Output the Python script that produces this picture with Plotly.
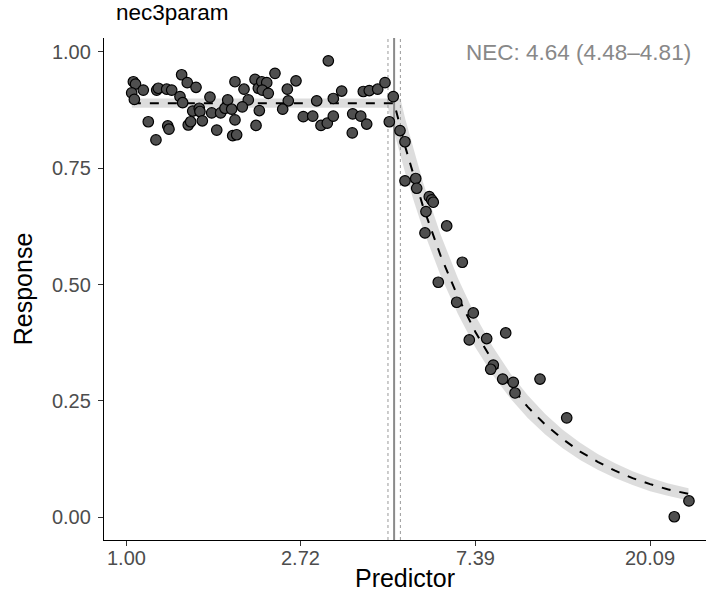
import math
import plotly.graph_objects as go

# ---- data ----
predictor = [1.043, 1.056, 1.033, 1.049, 1.104, 1.136, 1.187, 1.192, 1.203, 1.262,
             1.299, 1.270, 1.279, 1.375, 1.420, 1.362, 1.383, 1.493, 1.465, 1.521,
             1.527, 1.428, 1.448, 1.548, 1.617, 1.633, 1.681, 1.719, 1.762, 1.790,
             1.831, 1.866, 1.842, 1.884, 1.866, 1.965, 2.014, 1.946, 2.093, 2.133,
             2.175, 2.238, 2.182, 2.258, 2.346, 2.145, 2.105, 2.518, 2.532, 2.452,
             2.646, 2.759, 2.912, 2.979, 3.053, 3.165, 3.276, 3.276, 3.437, 3.184,
             3.661, 3.652, 3.833, 3.966, 3.890, 4.025, 4.224, 4.404, 4.618, 4.514,
             4.799, 4.938, 4.938, 5.251, 5.281, 5.675, 5.754, 5.806, 5.568, 6.270,
             5.537, 6.856, 5.975, 6.639, 7.301, 7.136, 7.883, 8.789, 8.187, 8.066,
             8.639, 9.180, 9.270, 10.696, 12.463, 25.09, 23.07]
response = [0.936, 0.931, 0.912, 0.898, 0.918, 0.850, 0.811, 0.918, 0.922, 0.920,
            0.918, 0.841, 0.834, 0.951, 0.934, 0.904, 0.891, 0.924, 0.873, 0.879,
            0.872, 0.843, 0.850, 0.852, 0.903, 0.869, 0.832, 0.869, 0.879, 0.897,
            0.877, 0.854, 0.820, 0.822, 0.936, 0.920, 0.897, 0.882, 0.941, 0.922,
            0.936, 0.934, 0.918, 0.911, 0.954, 0.874, 0.842, 0.920, 0.895, 0.877,
            0.938, 0.861, 0.862, 0.895, 0.842, 0.847, 0.862, 0.900, 0.916, 0.981,
            0.867, 0.826, 0.862, 0.845, 0.915, 0.917, 0.920, 0.934, 0.904, 0.850,
            0.831, 0.807, 0.723, 0.728, 0.707, 0.689, 0.682, 0.677, 0.657, 0.626,
            0.611, 0.548, 0.505, 0.462, 0.439, 0.381, 0.384, 0.396, 0.327, 0.318,
            0.297, 0.290, 0.267, 0.297, 0.2135, 0.035, 0.001]

fit_x = [1.034, 4.48, 4.64, 4.81, 4.95, 5.21, 5.47, 6.05, 6.69, 7.39, 8.17,
         9.03, 9.97, 11.02, 12.18, 13.46, 14.88, 16.44, 18.17, 20.09, 22.20, 25.03]
fit_est = [0.890, 0.890, 0.890, 0.838, 0.795, 0.730, 0.669, 0.563, 0.473, 0.398,
           0.335, 0.282, 0.237, 0.199, 0.168, 0.141, 0.119, 0.100, 0.084, 0.071,
           0.060, 0.050]
fit_lo = [0.880, 0.880, 0.828, 0.778, 0.739, 0.676, 0.620, 0.520, 0.436, 0.365,
          0.305, 0.255, 0.213, 0.178, 0.148, 0.123, 0.102, 0.084, 0.069, 0.056,
          0.046, 0.036]
fit_hi = [0.900, 0.900, 0.900, 0.900, 0.855, 0.785, 0.721, 0.608, 0.513, 0.433,
          0.366, 0.309, 0.262, 0.222, 0.188, 0.160, 0.136, 0.116, 0.099, 0.085,
          0.073, 0.062]

nec_est, nec_lo, nec_hi = 4.64, 4.48, 4.81
tick_vals = [1.0, 2.718282, 7.389056, 20.085537]
tick_text = ["1.00", "2.72", "7.39", "20.09"]
y_ticks = [0.0, 0.25, 0.5, 0.75, 1.0]
y_text = ["0.00", "0.25", "0.50", "0.75", "1.00"]

FONT = "Liberation Sans, Arial, Helvetica, sans-serif"

fig = go.Figure()

# credible band
fig.add_trace(go.Scatter(x=fit_x, y=fit_lo, mode="lines", line=dict(width=0),
                         hoverinfo="skip", showlegend=False))
fig.add_trace(go.Scatter(x=fit_x, y=fit_hi, mode="lines", line=dict(width=0),
                         fill="tonexty", fillcolor="rgba(150,150,150,0.32)",
                         hoverinfo="skip", showlegend=False))
# fitted line
fig.add_trace(go.Scatter(x=fit_x, y=fit_est, mode="lines",
                         line=dict(color="black", width=2, dash="9px,9px"),
                         showlegend=False))
# observations
fig.add_trace(go.Scatter(x=predictor, y=response, mode="markers",
                         marker=dict(size=10.5, color="#4f4f4f",
                                     line=dict(color="black", width=1.2)),
                         showlegend=False))

# NEC vertical lines
fig.add_vline(x=nec_est, line=dict(color="#8a8a8a", width=2), layer="below")
for v in (nec_lo, nec_hi):
    fig.add_vline(x=v, line=dict(color="#9a9a9a", width=1, dash="3px,3px"),
                  layer="below")

fig.add_annotation(text="NEC: 4.64 (4.48\u20134.81)", xref="paper", yref="paper",
                   x=0.979, y=0.972, xanchor="right", yanchor="middle",
                   showarrow=False, font=dict(family=FONT, size=22.5, color="#888888"))
fig.add_annotation(text="nec3param", xref="paper", yref="paper",
                   x=0.016, y=1.05, xanchor="left", yanchor="middle",
                   showarrow=False, font=dict(family=FONT, size=22.5, color="black"))

# x tick labels placed close to the axis (log axis: annotation x in log10 units)
for v, t in zip(tick_vals, tick_text):
    fig.add_annotation(text=t, xref="x", yref="paper", x=math.log10(v), y=0,
                       xanchor="center", yanchor="top", yshift=-5,
                       showarrow=False,
                       font=dict(family=FONT, size=20, color="#4d4d4d"))

fig.update_layout(
    width=706, height=603,
    margin=dict(l=104, r=0, t=38, b=63),
    paper_bgcolor="white", plot_bgcolor="white",
    font=dict(family=FONT),
    xaxis=dict(type="log", range=[-0.0547, 1.4419], tickvals=tick_vals,
               ticktext=tick_text, showticklabels=False,
               showgrid=False, zeroline=False,
               showline=True, linecolor="black", linewidth=1.3,
               ticks="outside", ticklen=5, tickwidth=1.3, tickcolor="#333333",
               title=dict(text="Predictor", font=dict(size=25, color="black"),
                          standoff=24)),
    yaxis=dict(range=[-0.049, 1.030], tickvals=y_ticks, ticktext=y_text,
               showgrid=False, zeroline=False,
               showline=True, linecolor="black", linewidth=1.3,
               ticks="outside", ticklen=5, tickwidth=1.3, tickcolor="#333333",
               ticklabelstandoff=3,
               tickfont=dict(size=20, color="#4d4d4d"),
               title=dict(text="Response", font=dict(size=25, color="black"),
                          standoff=12)),
)

fig.write_html("out.html")
